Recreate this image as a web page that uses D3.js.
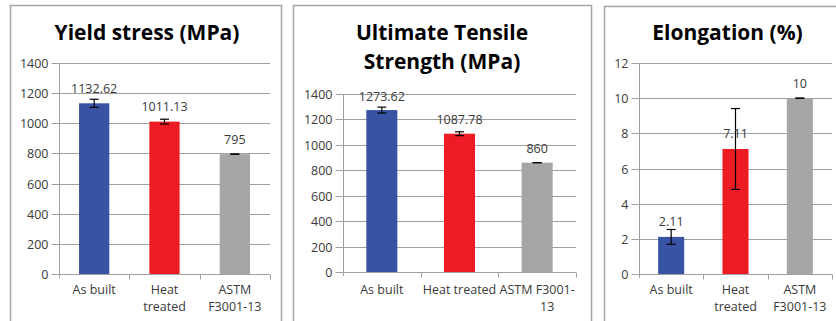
<!DOCTYPE html>
<html><head><meta charset="utf-8">
<script src="https://cdn.jsdelivr.net/npm/d3@7"></script>
<style>
html,body{margin:0;padding:0;background:#fff;}
svg{display:block;}
text{font-family:"Open Sans",sans-serif;}
</style></head>
<body>
<svg id="c" width="836" height="321"></svg>
<script>
const categories = ["As built", "Heat treated", "ASTM F3001-13"];
const colors = ["#3953A4", "#ED1C24", "#A6A6A6"];

const yieldValues = [1132.62, 1011.13, 795];
const yieldErrors = [27, 16, 0];
const yieldLabels = ["1132.62", "1011.13", "795"];
const yieldTicks = [0, 200, 400, 600, 800, 1000, 1200, 1400];

const utsValues = [1273.62, 1087.78, 860];
const utsErrors = [23, 15, 0];
const utsLabels = ["1273.62", "1087.78", "860"];
const utsTicks = [0, 200, 400, 600, 800, 1000, 1200, 1400];

const elongValues = [2.11, 7.11, 10];
const elongErrors = [0.42, 2.3, 0];
const elongLabels = ["2.11", "7.11", "10"];
const elongTicks = [0, 2, 4, 6, 8, 10, 12];

const svg = d3.select("#c");

const panels = [
  {box:[10,5,281,330], title:["Yield stress (MPa)"], titleX:147, titleY:[39.5],
   plot:{x0:59,x1:270,y0:274,y1:63}, max:1400, ticks:yieldTicks,
   values:yieldValues, errors:yieldErrors, labels:yieldLabels,
   catLines:[["As built"],["Heat","treated"],["ASTM","F3001-13"]], catDx:[[0],[0,0],[0,0]], barRatio:0.43, labelGap:10.5},
  {box:[293,5,591,330], title:["Ultimate Tensile","Strength (MPa)"], titleX:442, titleY:[40,68.5],
   plot:{x0:343,x1:576,y0:272,y1:94}, max:1400, ticks:utsTicks,
   values:utsValues, errors:utsErrors, labels:utsLabels,
   catLines:[["As built"],["Heat treated"],["ASTM F3001-","13"]], catDx:[[0],[0],[0,10]], barRatio:0.4, labelGap:9.5},
  {box:[604,6,852,330], title:["Elongation (%)"], titleX:727.5, titleY:[39.5],
   plot:{x0:639,x1:832,y0:274,y1:63}, max:12, ticks:elongTicks,
   values:elongValues, errors:elongErrors, labels:elongLabels,
   catLines:[["As built"],["Heat","treated"],["ASTM","F3001-13"]], catDx:[[0],[0,0],[0,0]], barRatio:0.405, labelGap:10.5}
];

const gridColor = "#a0a0a0";
const textColor = "#3a3a3a";
const small = "12.5px";

panels.forEach(p => {
  const g = svg.append("g");
  g.append("rect").attr("x", p.box[0]+0.5).attr("y", p.box[1]+0.5)
    .attr("width", p.box[2]-p.box[0]).attr("height", p.box[3]-p.box[1])
    .attr("fill", "#fff").attr("stroke", "#a6a6a6").attr("stroke-width", 1.5);

  p.title.forEach((t,i) => {
    g.append("text").attr("x", p.titleX).attr("y", p.titleY[i])
      .attr("text-anchor", "middle").attr("font-size", "21px").attr("font-weight", "bold")
      .attr("fill", "#000").text(t);
  });

  const x = d3.scaleBand().domain(categories).range([p.plot.x0, p.plot.x1]).padding(0);
  const y = d3.scaleLinear().domain([0, p.max]).range([p.plot.y0, p.plot.y1]);

  g.append("g").selectAll("line").data(p.ticks.filter(t => t > 0)).join("line")
    .attr("x1", p.plot.x0).attr("x2", p.plot.x1)
    .attr("y1", d => Math.round(y(d))+0.5).attr("y2", d => Math.round(y(d))+0.5)
    .attr("stroke", gridColor).attr("stroke-width", 1);

  const yAxis = d3.axisLeft(y).tickValues(p.ticks).tickSize(8).tickPadding(3).tickFormat(d3.format("d"));
  const ya = g.append("g").attr("transform", `translate(${p.plot.x0+0.5},0)`).call(yAxis);
  ya.select(".domain").attr("stroke", gridColor).attr("d", `M0,${p.plot.y1}V${p.plot.y0+4}`);
  ya.selectAll(".tick line").attr("stroke", gridColor);
  ya.selectAll(".tick").attr("transform", d => `translate(0,${Math.round(y(d))+0.5})`);
  ya.selectAll(".tick text").attr("fill", textColor).attr("font-size", small)
    .attr("font-family", "'Open Sans',sans-serif");

  const xa = g.append("g").attr("transform", `translate(0,${Math.round(p.plot.y0)+0.5})`);
  xa.append("line").attr("x1", p.plot.x0).attr("x2", p.plot.x1).attr("stroke", gridColor);
  xa.selectAll("line.tk").data(categories).join("line").attr("class","tk")
    .attr("x1", d => Math.round(x(d)+x.bandwidth())+0.5).attr("x2", d => Math.round(x(d)+x.bandwidth())+0.5)
    .attr("y1", 0).attr("y2", 5).attr("stroke", gridColor);

  categories.forEach((c,i) => {
    const cx = x(c) + x.bandwidth()/2;
    p.catLines[i].forEach((ln,j) => {
      g.append("text").attr("x", cx + p.catDx[i][j]).attr("y", 294 + j*16.5)
        .attr("text-anchor", "middle").attr("font-size", small).attr("fill", textColor).text(ln);
    });
  });

  const bw = x.bandwidth()*p.barRatio;
  g.append("g").selectAll("rect").data(p.values).join("rect")
    .attr("x", (d,i) => x(categories[i]) + (x.bandwidth()-bw)/2)
    .attr("y", d => y(d)).attr("width", bw).attr("height", d => y(0)-y(d))
    .attr("fill", (d,i) => colors[i]);

  p.values.forEach((v,i) => {
    const cx = x(categories[i]) + x.bandwidth()/2;
    const e = p.errors[i];
    const eg = g.append("g").attr("stroke", "#000").attr("stroke-width", 1.2);
    eg.append("line").attr("x1", cx).attr("x2", cx).attr("y1", y(v+e)).attr("y2", y(v-e));
    eg.append("line").attr("x1", cx-4.5).attr("x2", cx+4.5).attr("y1", y(v+e)).attr("y2", y(v+e));
    eg.append("line").attr("x1", cx-4.5).attr("x2", cx+4.5).attr("y1", y(v-e)).attr("y2", y(v-e));
  });

  p.values.forEach((v,i) => {
    const cx = x(categories[i]) + x.bandwidth()/2;
    g.append("text").attr("x", cx).attr("y", y(v) - p.labelGap)
      .attr("text-anchor", "middle").attr("font-size", small).attr("fill", textColor).text(p.labels[i]);
  });
});
</script>
</body></html>
